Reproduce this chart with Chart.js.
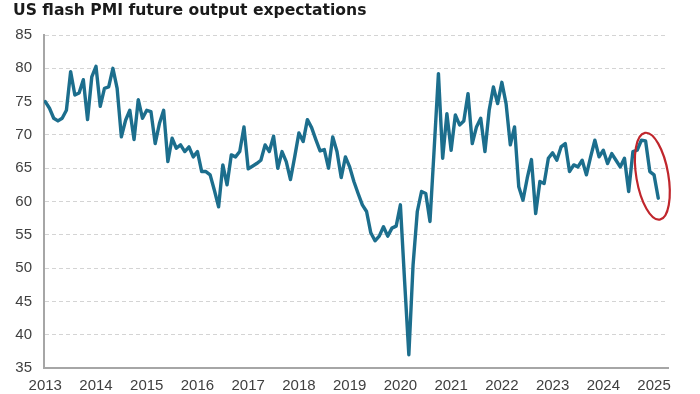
<!DOCTYPE html>
<html>
<head>
<meta charset="utf-8">
<script src="https://cdn.jsdelivr.net/npm/chart.js@4.4.1/dist/chart.umd.min.js"></script>
<style>
  html, body { margin: 0; padding: 0; background: #fff; }
</style>
</head>
<body>
<canvas id="myChart" width="700" height="394"></canvas>
<script>
// year tick labels (one per January)
const years = ['2013', '2014', '2015', '2016', '2017', '2018', '2019',
               '2020', '2021', '2022', '2023', '2024', '2025'];
const yTicks = [35, 40, 45, 50, 55, 60, 65, 70, 75, 80, 85];

// monthly index values, Jan..Dec
const pmi2013 = [75.0, 74.0, 72.5, 72.1, 72.5, 73.7, 79.5, 76.0, 76.3, 78.3, 72.3, 78.7];
const pmi2014 = [80.3, 74.3, 77.0, 77.2, 80.0, 77.0, 69.7, 72.2, 73.7, 69.3, 75.3, 72.5];
const pmi2015 = [73.7, 73.5, 68.7, 71.7, 73.7, 66.0, 69.5, 68.0, 68.5, 67.5, 68.2, 66.7];
const pmi2016 = [67.5, 64.5, 64.5, 64.0, 61.7, 59.2, 65.5, 62.5, 67.0, 66.7, 67.5, 71.2];
const pmi2017 = [64.9, 65.3, 65.7, 66.2, 68.5, 67.5, 69.8, 65.0, 67.5, 66.0, 63.3, 66.7];
const pmi2018 = [70.3, 69.0, 72.3, 71.1, 69.3, 67.6, 67.8, 65.0, 69.7, 67.5, 63.6, 66.7];
const pmi2019 = [65.2, 63.0, 61.2, 59.5, 58.5, 55.3, 54.1, 54.8, 56.2, 54.8, 56.0, 56.3];
const pmi2020 = [59.5, 48.0, 37.0, 50.5, 58.5, 61.5, 61.2, 57.0, 68.0, 79.2, 66.5, 73.2];
const pmi2021 = [67.7, 73.0, 71.5, 72.1, 76.2, 68.7, 71.2, 72.5, 67.5, 73.7, 77.2, 74.7];
const pmi2022 = [77.9, 74.7, 68.5, 71.2, 62.2, 60.2, 63.5, 66.3, 58.2, 63.0, 62.7, 66.5];
const pmi2023 = [67.3, 66.2, 68.2, 68.7, 64.5, 65.5, 65.2, 66.2, 64.0, 66.7, 69.2, 66.7];
const pmi2024 = [67.7, 65.7, 67.2, 66.2, 65.2, 66.5, 61.5, 67.5, 67.7, 69.2, 69.1, 64.5];
const pmi2025 = [64.0, 60.5];

const allYears = [pmi2013, pmi2014, pmi2015, pmi2016, pmi2017, pmi2018, pmi2019,
                  pmi2020, pmi2021, pmi2022, pmi2023, pmi2024, pmi2025];

// x = months since Jan 2013
const points = [];
allYears.forEach((arr, yi) => {
  arr.forEach((v, mi) => points.push({x: yi * 12 + mi, y: v}));
});

const tickFont = {family: 'Liberation Sans', size: 15};

// red ring round the latest readings
const ringPlugin = {
  id: 'ring',
  afterDatasetsDraw(chart) {
    const ctx = chart.ctx;
    const cx = chart.scales.x.getPixelForValue(143.6);
    const cy = chart.scales.y.getPixelForValue(63.8);
    ctx.save();
    ctx.strokeStyle = '#c0262c';
    ctx.lineWidth = 2.2;
    ctx.beginPath();
    ctx.ellipse(cx, cy, 16, 44, -0.17, 0, Math.PI * 2);
    ctx.stroke();
    ctx.restore();
  }
};

const config = {
  type: 'line',
  data: {
    datasets: [{
      data: points,
      borderColor: '#1c6e8d',
      borderWidth: 3.4,
      pointRadius: 0,
      tension: 0,
      borderJoinStyle: 'round',
      borderCapStyle: 'round'
    }]
  },
  options: {
    responsive: false,
    animation: false,
    layout: { padding: {left: 13, right: 32, top: 0, bottom: 0} },
    plugins: {
      legend: { display: false },
      tooltip: { enabled: false },
      title: {
        display: true,
        text: 'US flash PMI future output expectations',
        align: 'start',
        color: '#1a1a1a',
        font: {family: 'DejaVu Sans', size: 15.6, weight: 'bold'},
        padding: {top: 1.6, bottom: 14.7}
      }
    },
    scales: {
      x: {
        type: 'linear',
        min: -0.3,
        max: 147.3,
        afterBuildTicks: s => { s.ticks = years.map((y, i) => ({value: i * 12})); },
        afterFit: s => { s.height = 26; },
        ticks: {
          autoSkip: false,
          maxRotation: 0,
          padding: 9,
          color: '#404040',
          font: tickFont,
          callback: v => years[Math.round(v / 12)]
        },
        grid: { display: false, drawTicks: false },
        border: { display: true, color: '#a6a6a6', width: 2 }
      },
      y: {
        min: 35,
        max: 85,
        afterBuildTicks: s => { s.ticks = yTicks.map(v => ({value: v})); },
        afterFit: s => { s.width = 31; },
        ticks: { padding: 12, color: '#404040', font: tickFont },
        grid: { color: '#d4d4d4', lineWidth: 1, drawTicks: false },
        border: { display: true, color: '#a6a6a6', width: 2, dash: [4, 3] }
      }
    }
  },
  plugins: [ringPlugin]
};

new Chart(document.getElementById('myChart'), config);
</script>
</body>
</html>
